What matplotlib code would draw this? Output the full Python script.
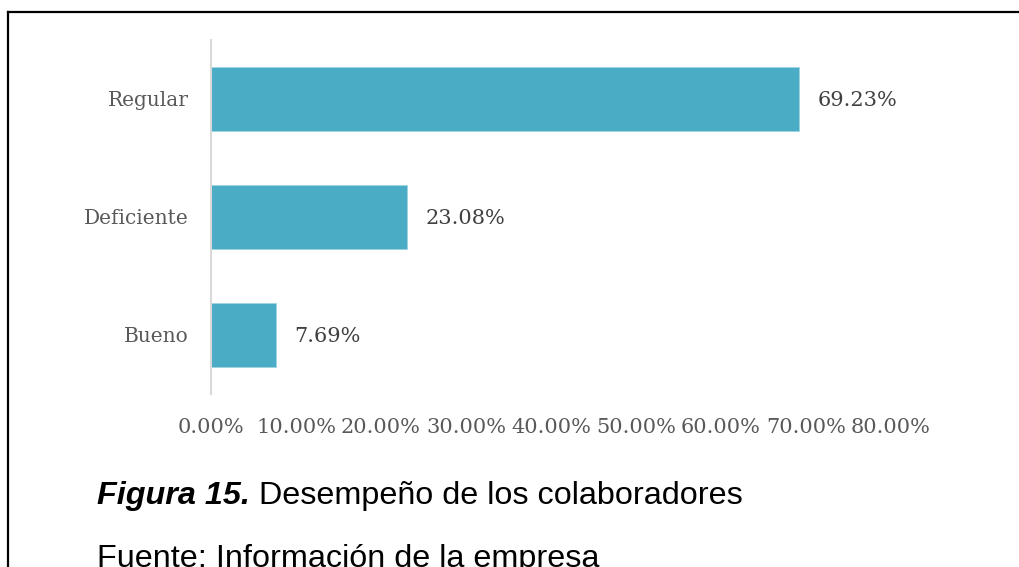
import matplotlib
matplotlib.use("Agg")
import matplotlib.pyplot as plt
from matplotlib.lines import Line2D

# Desempeño de los colaboradores (porcentaje)
categorias = ["Bueno", "Deficiente", "Regular"]
porcentajes = [7.69, 23.08, 69.23]
ticks_x = [0, 10, 20, 30, 40, 50, 60, 70, 80]
etiquetas_x = [f"{t:.2f}%" for t in ticks_x]

W, H = 1019, 567
fig = plt.figure(figsize=(W / 100, H / 100), dpi=100)
fig.patch.set_facecolor("white")

serif = ["DejaVu Serif"]
fs = 15

ax = fig.add_axes([211 / W, (H - 394) / H, 680 / W, 354 / H])
ax.barh(range(len(categorias)), porcentajes, height=0.535,
        color="#4BACC6", edgecolor="#9fd3e0", linewidth=0.6, zorder=2)

ax.set_xlim(0, 80)
ax.set_ylim(-0.5, len(categorias) - 0.5)
ax.set_yticks(range(len(categorias)))
ax.set_yticklabels(categorias, family=serif, fontsize=fs - 0.5, color="#595959",
                   va="center_baseline")
ax.set_xticks(ticks_x)
ax.set_xticklabels(etiquetas_x, family=serif, fontsize=fs, color="#595959")
ax.tick_params(axis="y", length=0, pad=16)
ax.tick_params(axis="x", length=0, pad=17.5)

for s in ("top", "right", "bottom"):
    ax.spines[s].set_visible(False)
ax.spines["left"].set_color("#D9D9D9")
ax.spines["left"].set_linewidth(1.5)

for i, v in enumerate(porcentajes):
    ax.annotate(f"{v:.2f}%", xy=(v, i), xytext=(13, -1), textcoords="offset points",
                va="center", ha="left", family=serif, fontsize=fs,
                color="#404040")

# Marco de la figura (borde izquierdo y superior)
fig.add_artist(Line2D([8 / W, 8 / W], [0, 1 - 12 / H], transform=fig.transFigure,
                      color="black", linewidth=1.6))
fig.add_artist(Line2D([8 / W, 1], [1 - 12 / H, 1 - 12 / H], transform=fig.transFigure,
                      color="black", linewidth=1.6))

# Pie de figura
cap_fs = 23.3
t1 = fig.text(97 / W, 1 - 504 / H, "Figura 15.", family="Liberation Sans",
              fontweight="bold", fontstyle="italic", fontsize=cap_fs, color="black",
              va="baseline", ha="left")
fig.canvas.draw()
x_end = t1.get_window_extent().x1
fig.text((x_end + 9) / W, 1 - 504 / H, "Desempeño de los colaboradores",
         family="Liberation Sans", fontsize=cap_fs, color="black",
         va="baseline", ha="left")
fig.text(97 / W, 1 - 567 / H, "Fuente: Información de la empresa", family="Liberation Sans",
         fontsize=cap_fs, color="black", va="baseline", ha="left")

fig.savefig("out.png", dpi=100, facecolor="white")
